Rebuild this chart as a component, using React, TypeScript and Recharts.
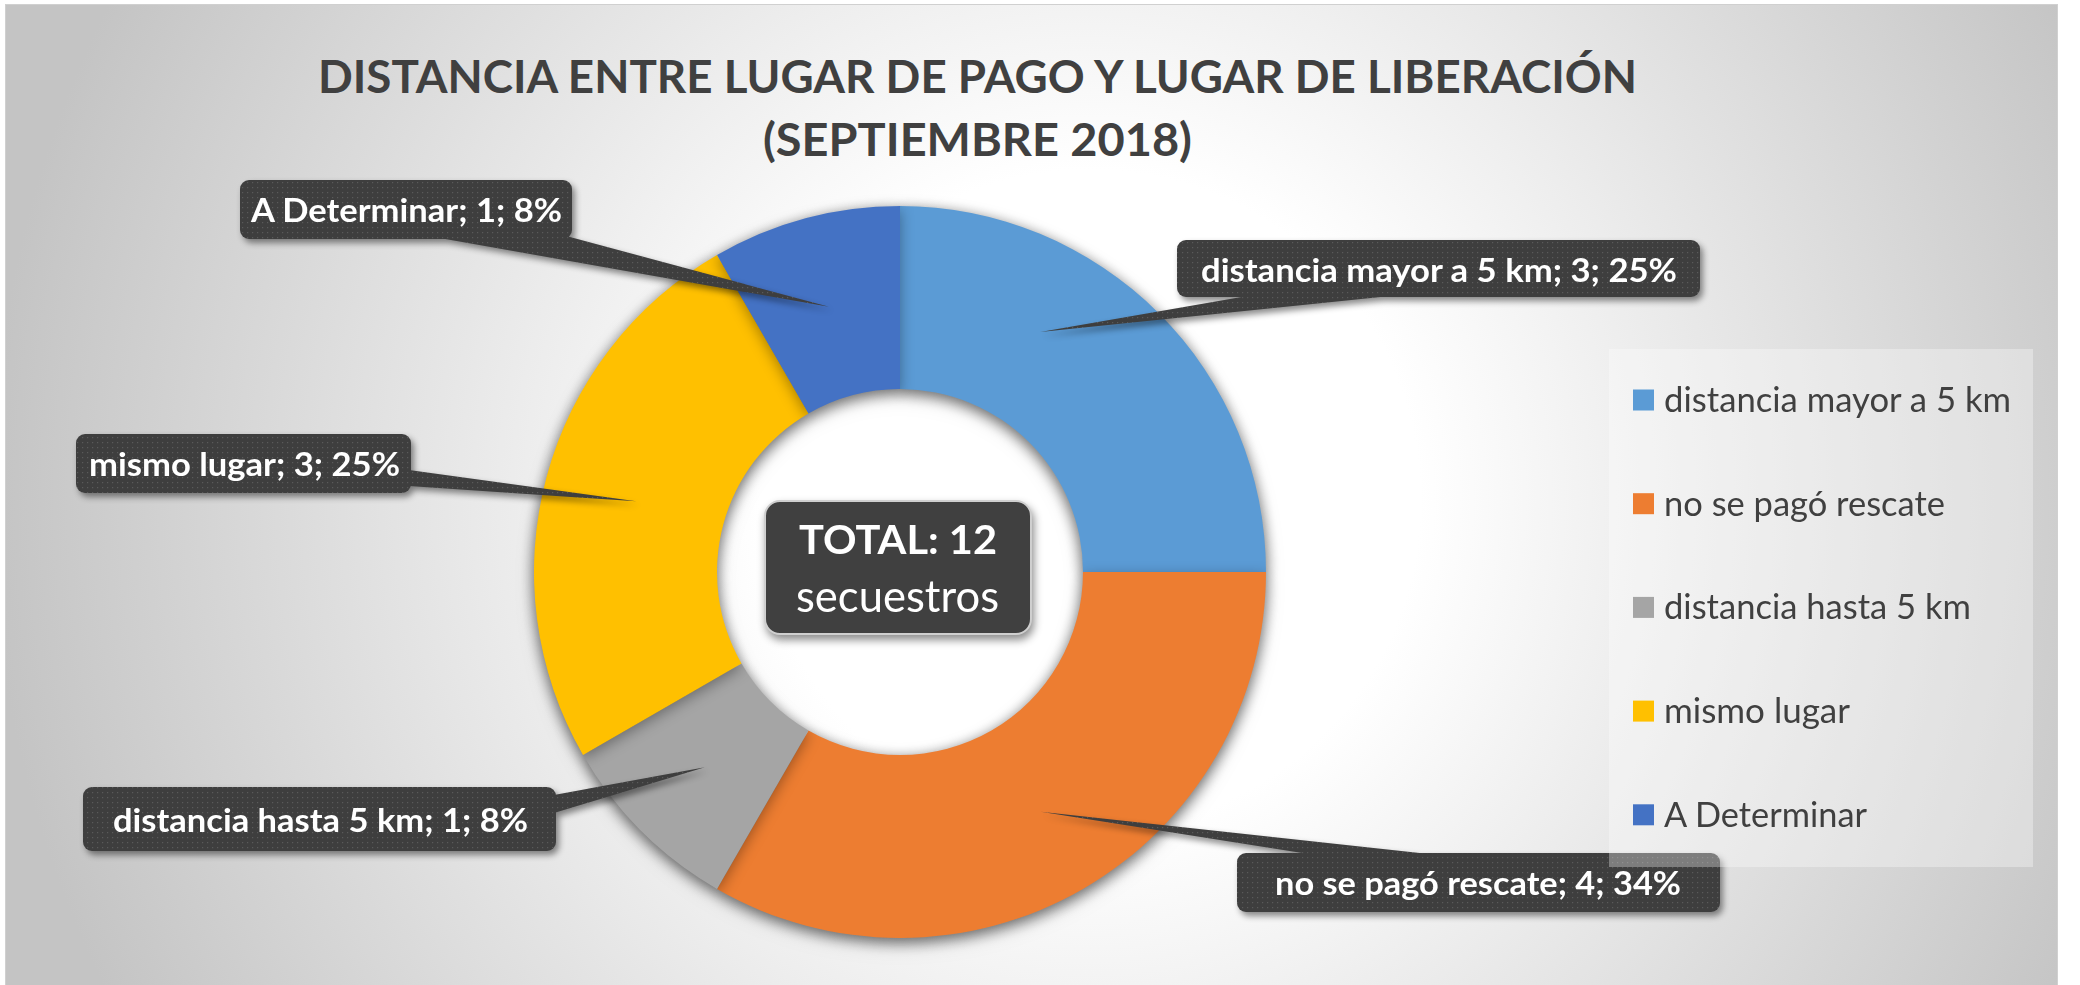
import React from 'react';
import { PieChart, Pie, Cell, Legend } from 'recharts';

// ---- data ----
const CATEGORIES = [
  'distancia mayor a 5 km',
  'no se pagó rescate',
  'distancia hasta 5 km',
  'mismo lugar',
  'A Determinar',
];
const VALUES = [3, 4, 1, 3, 1];
const PERCENT_LABELS = ['25%', '34%', '8%', '25%', '8%'];
const TITLE_LINES = ['DISTANCIA ENTRE LUGAR DE PAGO Y LUGAR DE LIBERACIÓN', '(SEPTIEMBRE 2018)'];
const CENTER_PREFIX = 'TOTAL:';
const CENTER_WORD = 'secuestros';

// ---- styles ----
const COLORS = ['#5B9BD5', '#ED7D31', '#A5A5A5', '#FFC000', '#4472C4'];
const TEXT_DARK = '#404040';
const FONT = 'Lato, "Open Sans", sans-serif';

const data = CATEGORIES.map((name, i) => ({ name, value: VALUES[i] }));
const TOTAL = VALUES.reduce((a, b) => a + b, 0);

// ---- layout ----
const W = 2080;
const H = 985;
const CX = 900;
const CY = 572;
const IR = 183;
const OR = 366;

const LABEL_LAYOUT = [
  { box: [1177, 240, 523, 57], tx: 1201, ty: 282, tw: 476, base: [[1253, 295], [1400, 295]], da: 14.7, dr: 3.5 },
  { box: [1237, 853, 483, 59], tx: 1275, ty: 895, tw: 406, base: [[1315, 855], [1438, 855]], da: 0.4, dr: 3.5 },
  { box: [83, 787, 473, 64], tx: 113, ty: 832, tw: 415, base: [[554, 795], [554, 813]], da: 0, dr: 1.5 },
  { box: [76, 434, 335, 59], tx: 89, ty: 476, tw: 311, base: [[409, 470], [409, 486]], da: 0, dr: -1.5 },
  { box: [240, 180, 332, 59], tx: 251, ty: 222, tw: 311, base: [[434, 237], [570, 237]], da: 0, dr: 0 },
];

const LEGEND_BOX = { left: 1609, top: 349, width: 424, height: 518 };
const LEGEND_ITEM_Y0 = 51;
const LEGEND_STEP = 103.7;
const LEGEND_TEXT_W = [347, 281, 307, 186, 203];

const RAD = Math.PI / 180;
const polar = (cx: number, cy: number, r: number, a: number) => ({
  x: cx + Math.cos(-a * RAD) * r,
  y: cy + Math.sin(-a * RAD) * r,
});

const renderLabel = (props: any) => {
  const { cx, cy, midAngle, innerRadius, outerRadius, index, name, value } = props;
  const L = LABEL_LAYOUT[index];
  if (!L) return null;
  const tip = polar(cx, cy, (innerRadius + outerRadius) / 2 + L.dr, midAngle + L.da);
  const [bx, by, bw, bh] = L.box;
  const pts = `${L.base[0][0]},${L.base[0][1]} ${L.base[1][0]},${L.base[1][1]} ${tip.x},${tip.y}`;
  return (
    <g key={`lbl-${index}`}>
      <g style={{ filter: 'drop-shadow(3px 4px 3px rgba(0,0,0,0.45))' }}>
        <polygon points={pts} fill="url(#dotsPat)" />
        <rect x={bx} y={by} width={bw} height={bh} rx={9} ry={9} fill="url(#dotsPat)" />
      </g>
      <text
        x={L.tx}
        y={L.ty}
        fill="#ffffff"
        fontFamily={FONT}
        fontWeight={700}
        fontSize={32}
        textLength={L.tw}
        lengthAdjust="spacingAndGlyphs"
      >
        {`${name}; ${value}; ${PERCENT_LABELS[index]}`}
      </text>
    </g>
  );
};

const renderLegend = (props: any) => {
  const payload: any[] = props.payload || [];
  // keep the slice order (same as the data), not the alphabetical order
  const ordered = CATEGORIES.map((name, i) => {
    const found = payload.find((p: any) => p && p.value === name);
    return { name, color: COLORS[i] || (found && found.color) };
  });
  return (
    <svg width={LEGEND_BOX.width} height={LEGEND_BOX.height} style={{ display: 'block' }}>
      {ordered.map((entry, i) => {
        const yc = LEGEND_ITEM_Y0 + i * LEGEND_STEP;
        return (
          <g key={`leg-${i}`}>
            <rect x={24} y={yc - 10.5} width={21} height={21} fill={entry.color} />
            <text
              x={55}
              y={yc + 12}
              fill={TEXT_DARK}
              fontFamily={FONT}
              fontSize={35}
              textLength={LEGEND_TEXT_W[i]}
              lengthAdjust="spacingAndGlyphs"
            >
              {entry.name}
            </text>
          </g>
        );
      })}
    </svg>
  );
};

export default function App() {
  return (
    <div style={{ position: 'absolute', left: 0, top: 0, width: W, height: H, overflow: 'hidden', background: '#fff' }}>
      <style>{`.donut-pie { filter: drop-shadow(0px 4px 7px rgba(0,0,0,0.35)); }`}</style>
      {/* background, frame and title */}
      <svg width={W} height={H} style={{ position: 'absolute', left: 0, top: 0 }}>
        <defs>
          <radialGradient id="bgGrad" gradientUnits="userSpaceOnUse" cx={1090} cy={500} r={1100}>
            <stop offset="0" stopColor="#ffffff" />
            <stop offset="0.3" stopColor="#ffffff" />
            <stop offset="1" stopColor="#c4c4c4" />
          </radialGradient>
          <pattern id="dotsPat" width={5} height={5} patternUnits="userSpaceOnUse">
            <rect width={5} height={5} fill="#3e3e3e" />
            <rect x={2} y={2} width={1.2} height={1.2} fill="#5a5a5a" />
          </pattern>
        </defs>
        <rect x={5.5} y={4.5} width={2052} height={990} fill="url(#bgGrad)" stroke="#d0d0d0" strokeWidth={1} />
        <text x={318} y={93} fill={TEXT_DARK} fontFamily={FONT} fontWeight={700} fontSize={46} textLength={1319} lengthAdjust="spacingAndGlyphs">
          {TITLE_LINES[0]}
        </text>
        <text x={763} y={156} fill={TEXT_DARK} fontFamily={FONT} fontWeight={700} fontSize={46} textLength={429} lengthAdjust="spacingAndGlyphs">
          {TITLE_LINES[1]}
        </text>
      </svg>

      <div style={{ position: 'absolute', left: 0, top: 0 }}>
        <PieChart width={W} height={H} margin={{ top: 0, right: 0, bottom: 0, left: 0 }}>
          <Pie
            className="donut-pie"
            data={data}
            dataKey="value"
            nameKey="name"
            cx={CX}
            cy={CY}
            innerRadius={IR}
            outerRadius={OR}
            startAngle={90}
            endAngle={-270}
            stroke="none"
            isAnimationActive={false}
            label={renderLabel}
            labelLine={false}
          >
            {data.map((d, i) => (
              <Cell key={`c-${i}`} fill={COLORS[i]} stroke="none" />
            ))}
          </Pie>
          <Legend
            content={renderLegend}
            layout="vertical"
            verticalAlign="top"
            align="right"
            wrapperStyle={{
              position: 'absolute',
              left: LEGEND_BOX.left,
              top: LEGEND_BOX.top,
              width: LEGEND_BOX.width,
              height: LEGEND_BOX.height,
              background: 'rgba(255,255,255,0.33)',
            }}
          />
        </PieChart>
      </div>

      {/* center total box */}
      <svg width={W} height={H} style={{ position: 'absolute', left: 0, top: 0, pointerEvents: 'none' }}>
        <g style={{ filter: 'drop-shadow(2px 5px 4px rgba(0,0,0,0.45))' }}>
          <rect x={CX - 135} y={CY - 71} width={266} height={133} rx={15} ry={15} fill="#404040" stroke="#cfcfcf" strokeWidth={2} />
        </g>
        <text x={CX - 101} y={CY - 18} fill="#ffffff" fontFamily={FONT} fontWeight={700} fontSize={40} textLength={198} lengthAdjust="spacingAndGlyphs">
          {`${CENTER_PREFIX} ${TOTAL}`}
        </text>
        <text x={CX - 104} y={CY + 40} fill="#ffffff" fontFamily={FONT} fontSize={44} textLength={203} lengthAdjust="spacingAndGlyphs">
          {CENTER_WORD}
        </text>
      </svg>
    </div>
  );
}
